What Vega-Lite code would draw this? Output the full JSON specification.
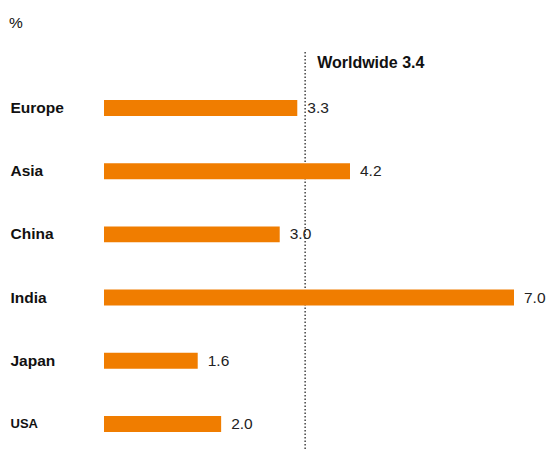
{
  "$schema": "https://vega.github.io/schema/vega-lite/v6.json",
  "autosize": "none",
  "width": 410,
  "height": 398,
  "padding": {"left": 104, "top": 52, "right": 34, "bottom": 0},
  "background": "white",
  "title": {"text": "%", "anchor": "start", "frame": "group", "dx": -95, "offset": 20, "fontSize": 15.5, "fontWeight": "normal", "font": "Liberation Sans", "color": "#111"},
  "datasets": {
    "regions": [
      {"region": "Europe", "value": 3.3},
      {"region": "Asia", "value": 4.2},
      {"region": "China", "value": 3.0},
      {"region": "India", "value": 7.0},
      {"region": "Japan", "value": 1.6},
      {"region": "USA", "value": 2.0}
    ],
    "world": [{"label": "Worldwide 3.4", "value": 3.4}]
  },
  "layer": [
    {
      "data": {"name": "world"},
      "mark": {"type": "rule", "color": "#444", "strokeDash": [1.5, 2], "strokeWidth": 1.5, "xOffset": 2},
      "encoding": {"x": {"field": "value", "type": "quantitative", "scale": {"domain": [0, 7], "nice": false, "zero": true}, "axis": null}}
    },
    {
      "data": {"name": "regions"},
      "mark": {"type": "bar", "color": "#F07D00"},
      "encoding": {
        "y": {"field": "region", "type": "nominal", "sort": null,
              "scale": {"type": "band", "paddingInner": 0.747, "paddingOuter": 0.522, "align": 0.727},
              "axis": {"title": null, "domain": false, "ticks": false, "tickSize": 0, "labelPadding": 94, "labelAlign": "left",
                       "labelFont": "Liberation Sans", "labelFontWeight": "bold", "labelColor": "#111",
                       "labelFontSize": {"condition": {"test": "datum.value == 'USA'", "value": 13}, "value": 15.5}}},
        "x": {"field": "value", "type": "quantitative"}
      }
    },
    {
      "data": {"name": "regions"},
      "mark": {"type": "text", "align": "left", "baseline": "middle", "dx": 10, "fontSize": 15.5, "font": "Liberation Sans", "color": "#222"},
      "encoding": {
        "y": {"field": "region", "type": "nominal", "sort": null},
        "x": {"field": "value", "type": "quantitative"},
        "text": {"field": "value", "type": "quantitative", "format": ".1f"}
      }
    },
    {
      "data": {"name": "world"},
      "mark": {"type": "text", "align": "left", "baseline": "top", "dx": 14, "dy": 3, "fontSize": 16, "fontWeight": "bold", "font": "Liberation Sans", "color": "#111"},
      "encoding": {"x": {"field": "value", "type": "quantitative"}, "y": {"value": 0}, "text": {"field": "label"}}
    }
  ],
  "config": {"view": {"stroke": null}}
}
